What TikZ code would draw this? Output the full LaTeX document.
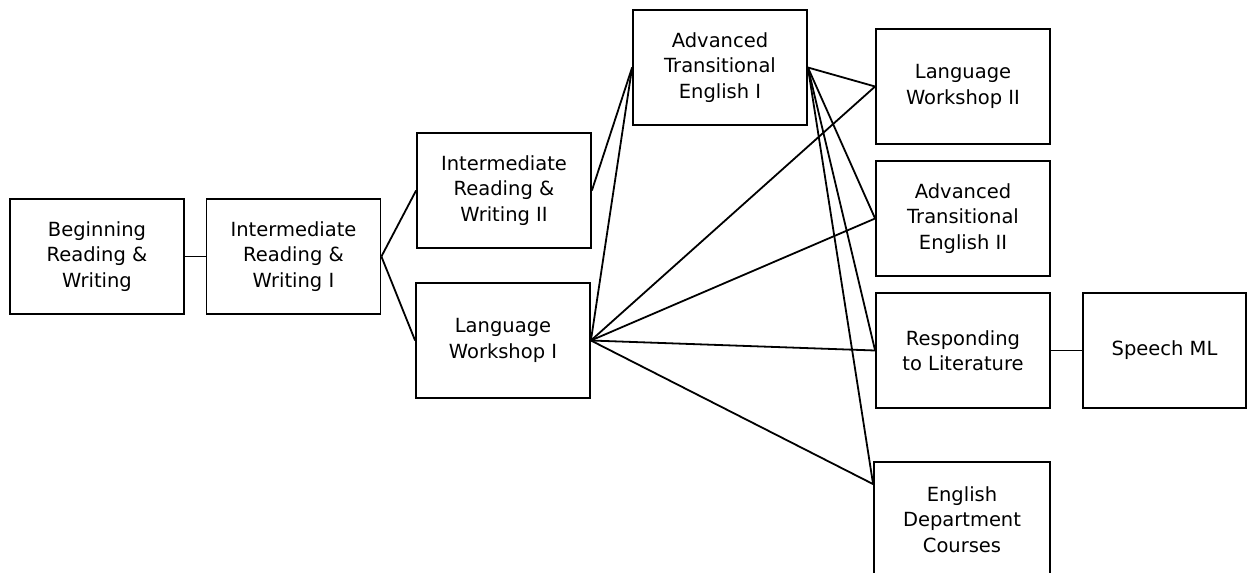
\documentclass[tikz,border=0pt]{standalone}
\usepackage{fontspec}
\setmainfont{DejaVu Sans}
\usetikzlibrary{calc}

\begin{document}
\begin{tikzpicture}[x=1pt,y=-1pt,
    course/.style={draw,line width=1.8pt,align=center,inner sep=0pt,
        minimum width=174pt,minimum height=115pt,
        font=\fontsize{19.5}{25.5}\selectfont},
    link/.style={line width=1.8pt}]
    \useasboundingbox (0,0) rectangle (1248,573);

    % first year
    \node[course] (beg)  at (97,256.5)  {Beginning\\Reading \&\\Writing};
    \node[course] (irw1) at (293.5,256.5) {Intermediate\\Reading \&\\Writing I};
    \node[course] (irw2) at (504,190.5) {Intermediate\\Reading \&\\Writing II};
    \node[course] (lw1)  at (503,340.5) {Language\\Workshop I};

    % advanced
    \node[course] (ate1) at (720,67.5)  {Advanced\\Transitional\\English I};
    \node[course] (lw2)  at (963,86.5)  {Language\\Workshop II};
    \node[course] (ate2) at (963,218.5) {Advanced\\Transitional\\English II};
    \node[course] (rtl)  at (963,350.5) {Responding\\to Literature};
    \node[course,minimum width=163pt] (sml) at (1164.5,350.5) {Speech ML};
    \node[course,minimum width=176pt] (edc) at (962,519.5) {English\\Department\\Courses};
    \coordinate (edcin) at ($(edc.north west)+(0,23)$);

    % links
    \draw[link] (beg.east) -- (irw1.west);
    \draw[link] (irw1.east) -- (irw2.west);
    \draw[link] (irw1.east) -- (lw1.west);
    \draw[link] (irw2.east) -- (ate1.west);
    \draw[link] (lw1.east) -- (ate1.west);
    \draw[link] (lw1.east) -- (lw2.west);
    \draw[link] (lw1.east) -- (ate2.west);
    \draw[link] (lw1.east) -- (rtl.west);
    \draw[link] (lw1.east) -- (edcin);
    \draw[link] (ate1.east) -- (lw2.west);
    \draw[link] (ate1.east) -- (ate2.west);
    \draw[link] (ate1.east) -- (rtl.west);
    \draw[link] (ate1.east) -- (edcin);
    \draw[link] (rtl.east) -- (sml.west);
\end{tikzpicture}
\end{document}
